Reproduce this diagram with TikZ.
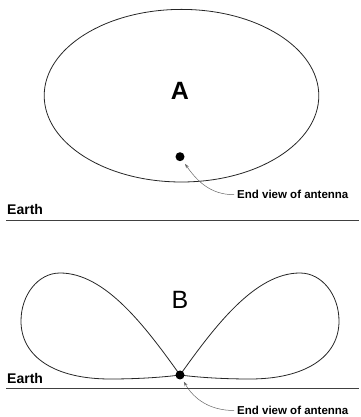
\documentclass[tikz,border=0pt]{standalone}
\usepackage{fontspec}
\setmainfont{Liberation Sans}
\usetikzlibrary{positioning,arrows.meta}
\tikzset{
  patternline/.style={line width=0.8pt, black!85},
  earthline/.style={line width=0.9pt, black!75},
  leader/.style={-{Stealth[length=1.6mm, width=1.1mm]}, line width=0.5pt, gray!80!black},
  antdot/.style={circle, fill=black, inner sep=0pt, minimum size=9pt},
  biglabel/.style={font=\fontsize{25}{25}\selectfont, inner sep=0pt},
  earthlabel/.style={font=\fontsize{14}{14}\selectfont\bfseries, inner sep=0pt, anchor=base west},
  notelabel/.style={font=\fontsize{11.5}{11.5}\selectfont\bfseries, inner xsep=3pt, inner ysep=0pt, anchor=west}
}
\begin{document}
\begin{tikzpicture}[x=1pt, y=1pt]
  \useasboundingbox (0,0) rectangle (360,417);
  % pattern A
  \draw[patternline] (181.5,321.3) ellipse [x radius=137.3, y radius=86.3];
  \node[biglabel, font=\fontsize{25}{25}\selectfont\bfseries] (labA) at (180,326) {A};
  \node[antdot] (dotA) at (180,260.3) {};
  \node[notelabel] (noteA) at (234,222.3) {End view of antenna};
  \draw[leader, shorten >=4pt] (noteA.west) to[out=180, in=-55] (dotA);
  \draw[earthline] (6,197) -- (359,197);
  \node[earthlabel] (earthA) at (7,202) {Earth};
  % pattern B
  \draw[patternline] (180,42) .. controls (145,91) and (105,144) .. (60,144)
    .. controls (38,144) and (21,122) .. (21,96)
    .. controls (21,60) and (55,38) .. (110,38)
    .. controls (140,38) and (165,40) .. (180,42);
  \draw[patternline] (180,42) .. controls (215,91) and (255,144) .. (300,144)
    .. controls (322,144) and (339,122) .. (339,96)
    .. controls (339,60) and (305,38) .. (250,38)
    .. controls (220,38) and (195,40) .. (180,42);
  \node[biglabel] (labB) at (180,117) {B};
  \node[antdot] (dotB) at (180,42) {};
  \node[notelabel] (noteB) at (234,6.5) {End view of antenna};
  \draw[leader, shorten >=3pt] (noteB.west) to[out=180, in=-60] (dotB);
  \draw[earthline] (6,29) -- (359,29);
  \node[earthlabel] (earthB) at (7,33.7) {Earth};
\end{tikzpicture}
\end{document}
